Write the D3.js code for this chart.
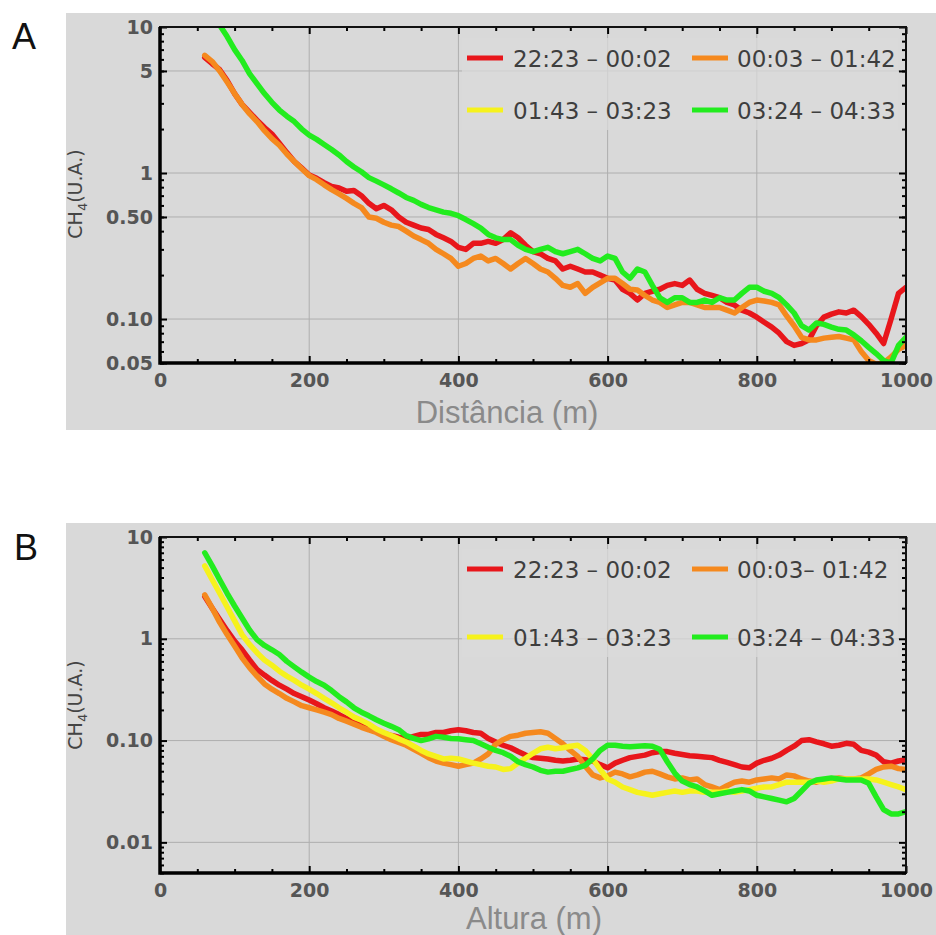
<!DOCTYPE html>
<html>
<head>
<meta charset="utf-8">
<script src="https://cdn.jsdelivr.net/npm/d3@7"></script>
<style>
  html, body { margin: 0; padding: 0; background: #fff; }
  svg { display: block; }
</style>
</head>
<body>
<svg id="chart" width="936" height="935"></svg>
<script>
// Sampling positions along the profile (m)
const distances = d3.range(60, 1001, 10);

const seriesLabelsA = ["22:23 – 00:02", "00:03 – 01:42", "01:43 – 03:23", "03:24 – 04:33"];
const seriesLabelsB = ["22:23 – 00:02", "00:03– 01:42", "01:43 – 03:23", "03:24 – 04:33"];
const seriesColors = ["#e8161b", "#f5891e", "#f6f21c", "#22ec1e"];

// Panel A: CH4 vs distance
const redA = [
  6.2, 5.6, 5.1, 4.3, 3.5, 2.95, 2.6, 2.3, 2.05, 1.85,
  1.6, 1.38, 1.2, 1.08, 0.97, 0.92, 0.86, 0.81, 0.79, 0.75,
  0.76, 0.70, 0.62, 0.57, 0.60, 0.56, 0.50, 0.46, 0.44, 0.42,
  0.41, 0.38, 0.36, 0.34, 0.31, 0.30, 0.33, 0.33, 0.34, 0.33,
  0.35, 0.39, 0.36, 0.32, 0.29, 0.28, 0.26, 0.25, 0.22, 0.23,
  0.22, 0.21, 0.21, 0.20, 0.19, 0.185, 0.16, 0.15, 0.135, 0.15,
  0.155, 0.16, 0.17, 0.175, 0.17, 0.185, 0.16, 0.15, 0.145, 0.14,
  0.13, 0.125, 0.115, 0.11, 0.103, 0.095, 0.088, 0.08, 0.07, 0.066,
  0.068, 0.072, 0.09, 0.103, 0.108, 0.112, 0.11, 0.115, 0.104, 0.092,
  0.08, 0.068, 0.10, 0.15, 0.165
];
const orangeA = [
  6.4, 5.8, 5.0, 4.2, 3.5, 2.95, 2.55, 2.25, 1.95, 1.72,
  1.55, 1.35, 1.2, 1.07, 0.96, 0.90, 0.83, 0.77, 0.72, 0.67,
  0.62, 0.58, 0.50, 0.49, 0.46, 0.44, 0.43, 0.40, 0.37, 0.35,
  0.33, 0.30, 0.28, 0.26, 0.23, 0.24, 0.26, 0.27, 0.25, 0.26,
  0.24, 0.22, 0.24, 0.26, 0.24, 0.22, 0.21, 0.19, 0.17, 0.165,
  0.175, 0.15, 0.165, 0.177, 0.19, 0.19, 0.175, 0.16, 0.158, 0.145,
  0.135, 0.13, 0.12, 0.125, 0.13, 0.13, 0.125, 0.12, 0.12, 0.12,
  0.115, 0.11, 0.12, 0.13, 0.135, 0.133, 0.13, 0.125, 0.105, 0.09,
  0.075, 0.072, 0.072, 0.074, 0.075, 0.076, 0.074, 0.072, 0.06, 0.052,
  0.049, 0.05, 0.055, 0.062, 0.066
];
const yellowA = [];
const greenA = [
  null, 12.5, 10.3, 8.6, 7.0, 5.9, 4.8, 4.1, 3.5, 3.05,
  2.7, 2.45, 2.25, 2.0, 1.82, 1.7, 1.57, 1.45, 1.33, 1.2,
  1.1, 1.02, 0.93, 0.88, 0.83, 0.78, 0.73, 0.68, 0.65, 0.61,
  0.58, 0.56, 0.54, 0.53, 0.51, 0.48, 0.45, 0.42, 0.38, 0.36,
  0.35, 0.35, 0.32, 0.30, 0.29, 0.30, 0.31, 0.29, 0.28, 0.29,
  0.30, 0.28, 0.26, 0.25, 0.27, 0.26, 0.21, 0.19, 0.22, 0.21,
  0.17, 0.14, 0.13, 0.14, 0.14, 0.13, 0.13, 0.135, 0.13, 0.14,
  0.135, 0.135, 0.15, 0.165, 0.165, 0.155, 0.15, 0.14, 0.125, 0.11,
  0.09, 0.084, 0.094, 0.092, 0.088, 0.085, 0.084, 0.078, 0.071, 0.064,
  0.058, 0.052, 0.05, 0.066, 0.075
];

// Panel B: CH4 vs height
const redB = [
  2.6, 2.0, 1.55, 1.2, 0.95, 0.78, 0.62, 0.5, 0.44, 0.39,
  0.35, 0.32, 0.29, 0.27, 0.25, 0.23, 0.21, 0.195, 0.18, 0.165,
  0.155, 0.145, 0.135, 0.125, 0.118, 0.112, 0.108, 0.105, 0.11, 0.115,
  0.115, 0.12, 0.12, 0.125, 0.128, 0.125, 0.12, 0.118, 0.105, 0.097,
  0.09, 0.085, 0.078, 0.072, 0.068, 0.067, 0.066, 0.064, 0.063, 0.064,
  0.066, 0.065, 0.063, 0.058, 0.054, 0.06, 0.064, 0.068, 0.07, 0.072,
  0.076, 0.078, 0.078, 0.075, 0.073, 0.071, 0.07, 0.069, 0.068, 0.064,
  0.061, 0.058, 0.055, 0.054, 0.06, 0.064, 0.067, 0.072, 0.08, 0.088,
  0.1, 0.102, 0.097, 0.093, 0.088, 0.09, 0.094, 0.092, 0.08, 0.077,
  0.072, 0.062, 0.06, 0.063, 0.065
];
const orangeB = [
  2.7, 2.0, 1.45, 1.1, 0.85, 0.65, 0.52, 0.43, 0.36, 0.32,
  0.29, 0.26, 0.24, 0.22, 0.21, 0.20, 0.19, 0.18, 0.165, 0.155,
  0.145, 0.135, 0.127, 0.12, 0.11, 0.102, 0.096, 0.09, 0.082, 0.075,
  0.068, 0.063, 0.06, 0.058, 0.056, 0.058, 0.06, 0.066, 0.074, 0.092,
  0.102, 0.11, 0.113, 0.118, 0.12, 0.122, 0.118, 0.105, 0.093, 0.08,
  0.07, 0.056, 0.046, 0.043, 0.045, 0.049, 0.047, 0.044, 0.046, 0.049,
  0.05, 0.047, 0.044, 0.042, 0.043, 0.041, 0.042, 0.037, 0.035, 0.033,
  0.036, 0.039, 0.04, 0.039, 0.041, 0.042, 0.043, 0.042, 0.046, 0.045,
  0.042, 0.04, 0.039, 0.041, 0.042, 0.043, 0.042, 0.042, 0.043, 0.047,
  0.052, 0.055, 0.056, 0.053, 0.052
];
const yellowB = [
  5.2, 3.8, 2.8, 2.05, 1.5, 1.1, 0.88, 0.73, 0.62, 0.55,
  0.48, 0.43, 0.39, 0.35, 0.32, 0.29, 0.26, 0.235, 0.21, 0.19,
  0.17, 0.158, 0.145, 0.13, 0.12, 0.112, 0.104, 0.097, 0.088, 0.08,
  0.074, 0.07, 0.066, 0.067, 0.066, 0.063, 0.06, 0.058, 0.056, 0.055,
  0.052, 0.053, 0.06, 0.067, 0.075, 0.083, 0.086, 0.083, 0.085, 0.088,
  0.09, 0.08, 0.066, 0.052, 0.042, 0.039, 0.035, 0.033, 0.031, 0.03,
  0.029, 0.03, 0.031, 0.032, 0.031, 0.032, 0.032, 0.031, 0.031, 0.031,
  0.032, 0.031, 0.032, 0.033, 0.034, 0.035, 0.035, 0.037, 0.039, 0.039,
  0.039, 0.039, 0.04, 0.039, 0.04, 0.042, 0.042, 0.042, 0.042, 0.042,
  0.041, 0.039, 0.037, 0.035, 0.033
];
const greenB = [
  7.0, 5.2, 3.8, 2.8, 2.1, 1.6, 1.22, 0.98, 0.86, 0.78,
  0.70, 0.60, 0.53, 0.47, 0.42, 0.38, 0.35, 0.31, 0.27, 0.24,
  0.21, 0.19, 0.175, 0.16, 0.148, 0.138, 0.128, 0.112, 0.105, 0.10,
  0.104, 0.11, 0.108, 0.105, 0.104, 0.102, 0.10, 0.093, 0.086, 0.08,
  0.076, 0.07, 0.062, 0.058, 0.055, 0.051, 0.049, 0.05, 0.05, 0.052,
  0.054, 0.057, 0.066, 0.08, 0.09, 0.09, 0.088, 0.087, 0.088, 0.089,
  0.088, 0.082, 0.062, 0.048, 0.04, 0.037, 0.035, 0.032, 0.029, 0.03,
  0.031, 0.032, 0.033, 0.032, 0.029, 0.028, 0.027, 0.026, 0.025, 0.027,
  0.032, 0.038, 0.041, 0.042, 0.043, 0.042, 0.041, 0.041, 0.041, 0.038,
  0.028, 0.021, 0.019, 0.019, 0.02
];

const xTicks = [0, 200, 400, 600, 800, 1000];
const yTicksA = [10, 5, 1, 0.5, 0.1, 0.05];
const yTickLabelsA = ["10", "5", "1", "0.50", "0.10", "0.05"];
const yTicksB = [10, 1, 0.1, 0.01];
const yTickLabelsB = ["10", "1", "0.10", "0.01"];

const svg = d3.select("#chart");
const GREY = "#d9d9d9";
const FONT = "'DejaVu Sans', sans-serif";

function drawPanel(p) {
  const g = svg.append("g");
  // panel background
  g.append("rect").attr("x", 66).attr("y", p.bgTop).attr("width", 870).attr("height", p.bgBottom - p.bgTop)
    .attr("fill", GREY);

  const x = d3.scaleLinear().domain([0, 1000]).range([160, 906]);
  const y = d3.scaleLog().domain(p.yDomain).range([p.bottom, p.top]);

  // grid
  const grid = g.append("g").attr("stroke", "#aeaeae").attr("stroke-width", 1);
  [200, 400, 600, 800].forEach(v => grid.append("line")
    .attr("x1", x(v)).attr("x2", x(v)).attr("y1", p.top).attr("y2", p.bottom));
  p.yTicks.filter(v => v !== p.yDomain[0] && v !== p.yDomain[1]).forEach(v => grid.append("line")
    .attr("x1", 160).attr("x2", 906).attr("y1", y(v)).attr("y2", y(v)));

  // legend background (partly hides the grid)
  g.append("rect").attr("x", 462).attr("y", p.legendRows[0] - 20).attr("width", 436)
    .attr("height", p.legendRows[1] - p.legendRows[0] + 40).attr("fill", GREY).attr("opacity", 0.75);

  // data lines
  const clipId = "clip" + p.id;
  svg.append("clipPath").attr("id", clipId).append("rect")
    .attr("x", 160).attr("y", p.top).attr("width", 746).attr("height", p.bottom - p.top);
  const line = d3.line()
    .defined(d => d[1] != null)
    .x(d => x(d[0])).y(d => y(d[1]));
  const lines = g.append("g").attr("clip-path", `url(#${clipId})`);
  p.order.forEach(i => {
    const vals = p.series[i];
    if (!vals.length) return;
    lines.append("path")
      .datum(distances.map((d, k) => [d, vals[k]]))
      .attr("d", line)
      .attr("fill", "none")
      .attr("stroke", seriesColors[i])
      .attr("stroke-width", 5.5)
      .attr("stroke-linejoin", "round")
      .attr("stroke-linecap", "round");
  });

  // legend
  const lg = g.append("g");
  const cols = [[467, 513], [692, 737]];
  [0, 1, 2, 3].forEach(i => {
    const row = Math.floor(i / 2), col = i % 2;
    const cy = p.legendRows[row];
    lg.append("line").attr("x1", cols[col][0]).attr("x2", cols[col][0] + 36)
      .attr("y1", cy).attr("y2", cy)
      .attr("stroke", seriesColors[i]).attr("stroke-width", 5);
    lg.append("text").attr("x", cols[col][1]).attr("y", cy + 9)
      .attr("font-family", FONT).attr("font-size", 23).attr("fill", "#3e3e3e")
      .text(p.labels[i]);
  });

  // axes (ticks point inward)
  const minorX = d3.range(50, 1000, 50).filter(v => v % 200 !== 0);
  const axisStyle = sel => {
    sel.select(".domain").remove();
    sel.selectAll("line").attr("stroke", "#000").attr("stroke-width", 2);
    sel.selectAll("text").attr("font-family", FONT).attr("font-size", 19)
      .attr("font-weight", "bold").attr("fill", "#555");
  };
  g.append("g").attr("transform", `translate(0,${p.bottom})`)
    .call(d3.axisBottom(x).tickValues(xTicks).tickFormat(d3.format("d")).tickSizeInner(-7).tickSizeOuter(0).tickPadding(11))
    .call(axisStyle);
  g.append("g").attr("transform", `translate(0,${p.bottom})`)
    .call(d3.axisBottom(x).tickValues(minorX).tickFormat("").tickSizeInner(-4).tickSizeOuter(0))
    .call(axisStyle);
  g.append("g").attr("transform", `translate(0,${p.top})`)
    .call(d3.axisTop(x).tickValues(xTicks).tickFormat("").tickSizeInner(-7).tickSizeOuter(0))
    .call(axisStyle);
  g.append("g").attr("transform", `translate(0,${p.top})`)
    .call(d3.axisTop(x).tickValues(minorX).tickFormat("").tickSizeInner(-4).tickSizeOuter(0))
    .call(axisStyle);

  const minorY = [];
  const lo = Math.floor(Math.log10(p.yDomain[0])), hi = Math.ceil(Math.log10(p.yDomain[1]));
  for (let e = lo; e < hi; e++) for (let m = 2; m <= 9; m++) {
    const v = m * Math.pow(10, e);
    if (v >= p.yDomain[0] && v <= p.yDomain[1]) minorY.push(v);
  }
  g.append("g").attr("transform", "translate(160,0)")
    .call(d3.axisLeft(y).tickValues(p.yTicks).tickFormat((d, i) => p.yTickLabels[i]).tickSizeInner(-7).tickSizeOuter(0).tickPadding(7))
    .call(axisStyle);
  g.append("g").attr("transform", "translate(160,0)")
    .call(d3.axisLeft(y).tickValues(minorY).tickFormat("").tickSizeInner(-4).tickSizeOuter(0))
    .call(axisStyle);
  g.append("g").attr("transform", "translate(906,0)")
    .call(d3.axisRight(y).tickValues(p.yTicks).tickFormat("").tickSizeInner(-7).tickSizeOuter(0))
    .call(axisStyle);
  g.append("g").attr("transform", "translate(906,0)")
    .call(d3.axisRight(y).tickValues(minorY).tickFormat("").tickSizeInner(-4).tickSizeOuter(0))
    .call(axisStyle);

  // frame
  g.append("rect").attr("x", 160).attr("y", p.top).attr("width", 746).attr("height", p.bottom - p.top)
    .attr("fill", "none").attr("stroke", "#111").attr("stroke-width", 2);
  g.append("path").attr("d", `M160,${p.top}V${p.bottom}H906`)
    .attr("fill", "none").attr("stroke", "#000").attr("stroke-width", 3.5);

  // axis titles
  const yl = g.append("text").attr("transform", `translate(82,${p.yLabelMid}) rotate(-90)`)
    .attr("text-anchor", "middle").attr("font-family", FONT).attr("font-size", 19).attr("fill", "#444");
  yl.append("tspan").text("CH");
  yl.append("tspan").attr("font-size", 13).attr("dy", 5).text("4");
  yl.append("tspan").attr("dy", -5).text("(U.A.)");

  g.append("text").attr("x", p.xLabelMid).attr("y", p.xLabelBase).attr("text-anchor", "middle")
    .attr("font-family", "'Liberation Sans', Arial, sans-serif").attr("font-size", 31).attr("fill", "#8a8a8a")
    .text(p.xTitle);

  // panel letter
  g.append("text").attr("x", p.letterX).attr("y", p.letterY)
    .attr("font-family", "'Liberation Sans', Arial, sans-serif").attr("font-size", 36).attr("fill", "#111")
    .text(p.id);
}

drawPanel({
  id: "A", bgTop: 13, bgBottom: 430, top: 27, bottom: 363, yDomain: [0.05, 10],
  yTicks: yTicksA, yTickLabels: yTickLabelsA,
  series: [redA, orangeA, yellowA, greenA], order: [0, 1, 2, 3],
  labels: seriesLabelsA, legendRows: [58, 110],
  yLabelMid: 194, xTitle: "Distância (m)", xLabelMid: 507, xLabelBase: 423,
  letterX: 12, letterY: 49
});
drawPanel({
  id: "B", bgTop: 523, bgBottom: 935, top: 537, bottom: 873, yDomain: [0.005, 10],
  yTicks: yTicksB, yTickLabels: yTickLabelsB,
  series: [redB, orangeB, yellowB, greenB], order: [0, 1, 2, 3],
  labels: seriesLabelsB, legendRows: [569, 637],
  yLabelMid: 705, xTitle: "Altura (m)", xLabelMid: 534, xLabelBase: 929,
  letterX: 14, letterY: 560
});
</script>
</body>
</html>
